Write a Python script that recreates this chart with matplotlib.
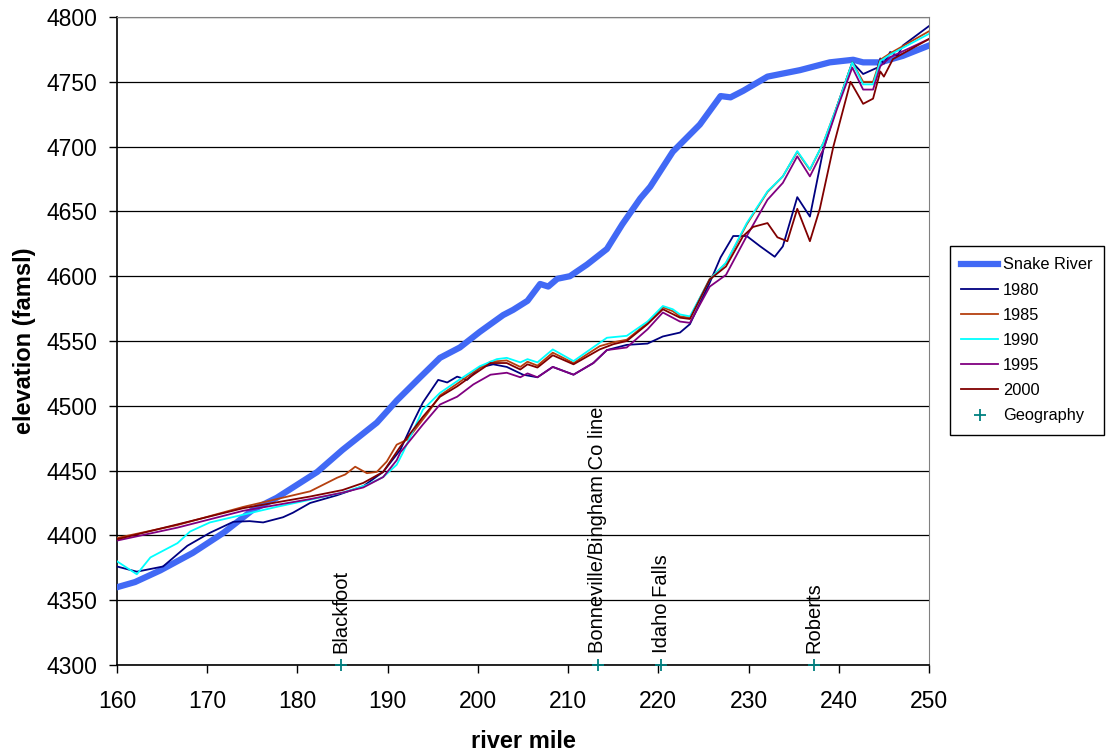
import numpy as np
import matplotlib
matplotlib.use('Agg')
import matplotlib.pyplot as plt

plt.rcParams['font.family'] = ['Liberation Sans', 'DejaVu Sans']

# Snake River water surface
snake_mile = [160, 162, 164.8, 168.4, 171.8, 175.1, 177.7, 182.2, 185, 188.8, 191, 193.6, 195.8,
              198, 200.2, 202.8, 203.9, 205.5, 206.9, 207.8, 208.8, 210.2, 212.1, 213.2, 214.3,
              216, 218, 219.1, 221.6, 224.6, 226.9, 228, 229.4, 232.1, 235.7, 239, 241.6, 242.7,
              244.6, 247.1, 250]
snake_elev = [4360, 4364, 4373, 4386.5, 4402, 4420, 4429, 4449, 4466, 4487, 4504, 4522, 4537,
              4545, 4557, 4570, 4574, 4581, 4594, 4592, 4598, 4600, 4609, 4615, 4621,
              4640, 4660, 4669, 4696, 4717, 4739, 4738, 4743, 4754, 4759, 4765, 4767, 4765,
              4765, 4770, 4778]

# water table by year
y1980_mile = [160, 162.2, 165.1, 167.8, 170.3, 172.9, 174.7, 176.2, 178.4, 179.5, 181.4, 184.4,
              187.3, 189.5, 191.4, 192.8, 193.9, 195.6, 196.6, 197.7, 198.8, 200.2, 201.7, 203.2,
              205, 206.6, 208.3, 210.6, 212.8, 214.3, 216.5, 218.8, 220.5, 222.4, 223.5, 225.7,
              226.9, 228.3, 229.8, 231.3, 232.9, 233.8, 235.4, 236.8, 238.3, 239.8, 241.5, 242.7,
              244.3, 244.6, 245, 245.7, 246.5, 247.1, 250]
y1980_elev = [4376, 4372, 4376, 4392, 4402, 4410.5, 4411, 4410, 4414, 4417.5, 4425, 4431,
              4438, 4449, 4466, 4487, 4502.5, 4520, 4518, 4522.5, 4520, 4529.5, 4532, 4530,
              4524, 4522, 4530, 4524, 4533, 4543, 4547, 4548, 4553.5, 4556.5, 4563, 4595,
              4614.5, 4631, 4631, 4623, 4615, 4623, 4661, 4646, 4698, 4731, 4765, 4756,
              4761, 4768, 4764, 4773, 4770, 4778, 4793]

y1985_mile = [160, 166.7, 174, 181.4, 184.4, 185.3, 186.4, 187.7, 188.8, 189.9, 191, 192.2,
              194.4, 195.8, 197.7, 199.5, 201.4, 203.2, 204.7, 205.5, 206.6, 208.3, 210.6, 213.5,
              215, 216.5, 218.8, 220.5, 221.6, 222.4, 223.5, 225.7, 227.5, 229.8, 232.1, 233.8,
              235.4, 236.8, 238.3, 239.8, 241.5, 242.7, 243.8, 244.6, 245.7, 250]
y1985_elev = [4398, 4408, 4422, 4434, 4444.5, 4447, 4453, 4448, 4449, 4457, 4470, 4474,
              4494, 4508, 4517, 4526, 4534, 4535, 4530, 4534, 4531, 4541, 4533, 4546,
              4549, 4551, 4564, 4576, 4573, 4569, 4568, 4598, 4610, 4640, 4665, 4677,
              4696, 4682, 4703, 4731, 4765, 4750, 4750, 4767, 4772, 4789]

y1990_mile = [160, 162.2, 163.7, 166.7, 168.1, 170.3, 174, 177.7, 181.4, 185, 187.7, 189.5,
              191, 191.7, 193.9, 195.8, 197.7, 200.2, 202.1, 203.2, 204.7, 205.5, 206.6, 208.3,
              210.6, 214.3, 216.5, 218.8, 220.5, 221.6, 222.4, 223.5, 225.7, 227.5, 229.8, 232.1,
              233.8, 235.4, 236.8, 238.3, 239.8, 241.5, 242.7, 243.8, 244.6, 245.7, 250]
y1990_elev = [4380, 4370, 4383, 4394, 4403, 4410, 4416, 4422, 4427.5, 4433, 4439, 4445,
              4454.5, 4464, 4497, 4510, 4519, 4530.5, 4536, 4537, 4533.5, 4536, 4533.5, 4543.5,
              4534.5, 4552.5, 4554, 4565, 4577, 4574.5, 4570.5, 4569, 4597.5, 4610.5, 4641, 4665.5,
              4677, 4696.5, 4682.5, 4703, 4731, 4765, 4748, 4748, 4766, 4771, 4787]

y1995_mile = [160, 166.7, 174, 181.4, 185, 187.3, 189.5, 191, 191.4, 193.9, 195.8, 197.7,
              199.5, 201.4, 203.2, 204.7, 205.5, 206.6, 208.3, 210.6, 212.8, 214.3, 216.5, 218.8,
              220.5, 222.4, 223.5, 225.7, 227.5, 229.8, 232.1, 233.8, 235.4, 236.8, 238.3, 239.8,
              241.5, 242.7, 243.8, 244.6, 245.7, 250]
y1995_elev = [4396, 4406, 4419, 4428, 4433, 4437, 4445, 4458, 4464, 4485.5, 4501, 4507,
              4516.5, 4524, 4525.5, 4522, 4525, 4522, 4530, 4524, 4533, 4543, 4545, 4559,
              4572, 4565, 4564, 4592, 4601, 4631, 4659, 4672, 4692.5, 4677, 4698, 4729,
              4761, 4744, 4744, 4762, 4769, 4783]

y2000_mile = [160, 174, 181.4, 185, 187.3, 189.5, 191.4, 193.9, 195.8, 197.7, 199.5, 201.4,
              203.2, 204.7, 205.5, 206.6, 208.3, 210.6, 213.5, 215, 216.5, 218.8, 220.5, 222.4,
              223.5, 225.7, 227.5, 229.4, 230.5, 232.1, 233.2, 234.3, 235.4, 236.8, 237.9, 239.4,
              241.3, 242.7, 243.8, 244.6, 245, 246, 250]
y2000_elev = [4397, 4421, 4430, 4435, 4440.5, 4449, 4468.5, 4491.5, 4507, 4515, 4524, 4533,
              4533, 4528, 4532, 4529.5, 4539, 4532, 4543.5, 4547.5, 4550, 4563, 4574.5, 4568,
              4567, 4597.5, 4607.5, 4631, 4638, 4641, 4630, 4627, 4652, 4627, 4652, 4700,
              4750, 4733, 4737, 4758, 4754, 4767.5, 4783]

geo_mile = [184.8, 213.3, 220.3, 237.2]
geo_names = ['Blackfoot', 'Bonneville/Bingham Co line', 'Idaho Falls', 'Roberts']

years = [
    ('1980', y1980_mile, y1980_elev, '#000080'),
    ('1985', y1985_mile, y1985_elev, '#B5400F'),
    ('1990', y1990_mile, y1990_elev, '#00FFFF'),
    ('1995', y1995_mile, y1995_elev, '#800080'),
    ('2000', y2000_mile, y2000_elev, '#800000'),
]

fig = plt.figure(figsize=(11.07, 7.52), dpi=100)
ax = fig.add_axes([0.1057, 0.1157, 0.7335, 0.8617])

ax.plot(snake_mile, snake_elev, color='#4169F5', lw=4.5, label='Snake River', zorder=3)
for name, m, e, c in years:
    ax.plot(m, e, color=c, lw=1.3, label=name, zorder=4)

ax.plot(geo_mile, [4300] * len(geo_mile), ls='none', marker='+', ms=8, mew=1.3,
        color='#008080', label='Geography', zorder=5, clip_on=False)
for m, name in zip(geo_mile, geo_names):
    ax.text(m, 4309, name, rotation=90, ha='center', va='bottom', fontsize=14.5, zorder=6)

ax.set_xlim(160, 250)
ax.set_ylim(4300, 4800)
ax.set_xticks(np.arange(160, 251, 10))
ax.set_yticks(np.arange(4300, 4801, 50))
ax.yaxis.grid(True, color='black', lw=0.9)
ax.set_axisbelow(True)
ax.tick_params(direction='out', length=6, width=1, labelsize=16.5)
ax.tick_params(axis='x', pad=12)
ax.tick_params(axis='y', pad=8)
for s in ['top', 'right']:
    ax.spines[s].set_color('#808080')
ax.spines['left'].set_linewidth(1.2)
ax.spines['bottom'].set_linewidth(1.2)

ax.set_xlabel('river mile', fontsize=17, fontweight='bold', labelpad=12)
ax.set_ylabel('elevation (famsl)', fontsize=17, fontweight='bold', labelpad=8)

leg = fig.legend(loc='upper left', bbox_to_anchor=(0.858, 0.673), fontsize=11.8,
                 frameon=True, fancybox=False, edgecolor='black', framealpha=1,
                 handlelength=2.25, labelspacing=0.62, borderpad=0.7, handletextpad=0.3,
                 borderaxespad=0)
leg.get_frame().set_linewidth(1)

fig.savefig('out.png', dpi=100)
